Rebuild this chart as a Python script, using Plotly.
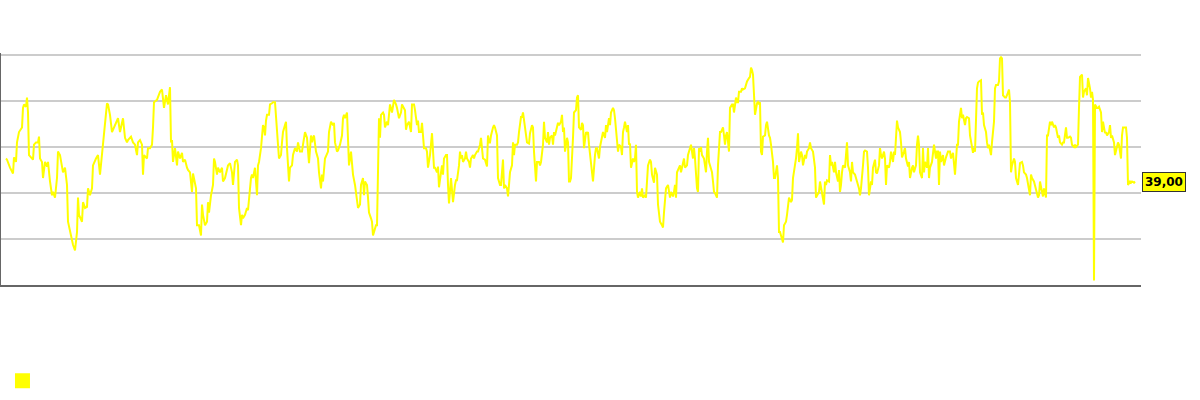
import plotly.graph_objects as go

days = [
    6, 7, 10, 13, 14, 16, 17, 19, 22, 23,
    24, 26, 27, 28, 29, 32, 33, 34, 36, 38,
    39, 40, 42, 43, 45, 47, 48, 50, 52, 53,
    55, 57, 58, 60, 62, 63, 65, 67, 68, 70,
    72, 73, 75, 77, 78, 79, 82, 83, 85, 87,
    88, 90, 92, 93, 96, 98, 100, 102, 103, 105,
    107, 108, 110, 112, 113, 116, 118, 120, 122, 123,
    125, 127, 128, 131, 133, 135, 137, 138, 140, 142,
    143, 144, 147, 148, 150, 152, 153, 154, 157, 158,
    160, 162, 163, 164, 166, 168, 169, 170, 171, 172,
    173, 175, 177, 178, 180, 182, 183, 185, 187, 188,
    190, 192, 193, 195, 196, 197, 199, 201, 202, 203,
    205, 207, 208, 209, 211, 213, 214, 215, 217, 218,
    220, 222, 223, 225, 227, 228, 230, 232, 233, 235,
    237, 238, 239, 241, 242, 243, 245, 247, 248, 249,
    251, 252, 253, 255, 257, 258, 259, 261, 262, 263,
    264, 265, 266, 267, 269, 270, 272, 273, 275, 277,
    278, 279, 281, 282, 283, 285, 286, 287, 289, 290,
    292, 293, 295, 297, 298, 300, 302, 303, 305, 307,
    308, 309, 311, 312, 313, 314, 316, 318, 319, 321,
    322, 323, 325, 327, 328, 329, 331, 333, 334, 335,
    337, 338, 340, 342, 343, 344, 345, 347, 348, 349,
    351, 352, 353, 355, 357, 358, 360, 361, 363, 364,
    365, 367, 368, 369, 371, 372, 373, 375, 376, 377,
    378, 379, 380, 381, 383, 384, 385, 387, 388, 390,
    392, 393, 394, 396, 397, 399, 401, 402, 403, 405,
    406, 407, 409, 410, 411, 412, 414, 415, 417, 418,
    419, 421, 422, 423, 424, 426, 427, 428, 430, 432,
    433, 434, 435, 437, 438, 439, 441, 442, 443, 444,
    446, 447, 448, 449, 451, 452, 453, 455, 456, 457,
    459, 460, 461, 462, 463, 465, 466, 467, 469, 470,
    471, 473, 474, 475, 477, 478, 480, 481, 482, 483,
    485, 487, 488, 489, 490, 491, 493, 494, 495, 497,
    498, 499, 500, 501, 503, 504, 505, 507, 508, 509,
    510, 512, 513, 514, 515, 517, 518, 519, 521, 522,
    523, 525, 526, 527, 529, 530, 532, 533, 534, 535,
    536, 537, 539, 540, 541, 543, 544, 545, 547, 548,
    549, 550, 552, 553, 554, 555, 557, 558, 559, 561,
    562, 563, 564, 565, 567, 568, 569, 570, 571, 572,
    573, 574, 576, 577, 578, 579, 581, 582, 583, 584,
    586, 587, 588, 589, 591, 592, 593, 595, 596, 597,
    599, 600, 602, 603, 605, 606, 607, 609, 610, 611,
    613, 614, 615, 617, 618, 619, 621, 622, 623, 624,
    625, 627, 628, 629, 630, 631, 633, 634, 635, 636,
    637, 638, 640, 641, 642, 643, 645, 646, 647, 648,
    650, 651, 652, 654, 655, 656, 657, 658, 660, 662,
    663, 664, 665, 666, 668, 669, 670, 671, 673, 674,
    675, 676, 677, 679, 680, 681, 682, 684, 685, 687,
    688, 689, 691, 692, 693, 694, 695, 697, 698, 699,
    700, 701, 702, 704, 705, 706, 707, 708, 709, 710,
    712, 713, 714, 715, 717, 718, 719, 720, 721, 723,
    724, 725, 726, 727, 729, 730, 732, 733, 734, 736,
    737, 738, 739, 741, 742, 743, 745, 746, 747, 749,
    750, 751, 752, 753, 754, 755, 757, 758, 759, 760,
    761, 762, 763, 765, 766, 767, 769, 770, 771, 773,
    774, 775, 777, 778, 779, 780, 781, 783, 784, 786,
    787, 788, 789, 791, 792, 793, 794, 796, 797, 798,
    799, 801, 802, 803, 805, 806, 807, 809, 810, 811,
    813, 814, 815, 816, 817, 819, 820, 821, 823, 824,
    825, 826, 827, 829, 830, 831, 832, 834, 835, 836,
    838, 839, 840, 841, 842, 843, 845, 846, 847, 848,
    850, 851, 852, 853, 855, 856, 857, 859, 860, 861,
    863, 864, 865, 867, 868, 869, 871, 872, 873, 875,
    876, 877, 879, 880, 881, 882, 884, 885, 886, 887,
    889, 890, 891, 893, 894, 895, 896, 897, 898, 900,
    901, 902, 904, 905, 906, 908, 909, 910, 912, 913,
    914, 916, 917, 918, 919, 920, 922, 923, 924, 925,
    927, 928, 929, 930, 932, 933, 934, 936, 937, 938,
    939, 940, 941, 943, 944, 946, 947, 948, 950, 951,
    953, 954, 955, 957, 958, 959, 961, 962, 963, 965,
    966, 967, 969, 970, 971, 973, 974, 975, 977, 978,
    979, 981, 982, 983, 984, 986, 987, 988, 989, 991,
    992, 994, 995, 996, 998, 999, 1000, 1001, 1002, 1003,
    1005, 1006, 1007, 1009, 1010, 1011, 1012, 1014, 1015, 1016,
    1018, 1019, 1020, 1022, 1023, 1024, 1026, 1027, 1028, 1030,
    1031, 1032, 1034, 1035, 1036, 1038, 1039, 1040, 1042, 1043,
    1044, 1046, 1047, 1048, 1050, 1051, 1052, 1054, 1055, 1056,
    1058, 1059, 1060, 1062, 1063, 1064, 1066, 1067, 1068, 1070,
    1071, 1072, 1074, 1075, 1076, 1078, 1079, 1080, 1082, 1083,
    1084, 1086, 1087, 1088, 1090, 1091, 1092, 1093, 1094, 1095,
    1097, 1098, 1099, 1101, 1102, 1103, 1105, 1106, 1107, 1109,
    1110, 1111, 1112, 1114, 1115, 1117, 1118, 1119, 1121, 1122,
    1123, 1125, 1126, 1127, 1128, 1130, 1131, 1132, 1134, 1135,
]

values = [
    41.0, 40.9, 40.2, 39.7, 41.1, 40.7, 42.4, 43.3, 43.7, 45.4,
    45.7, 45.5, 46.3, 45.0, 41.3, 41.0, 40.9, 42.2, 42.4, 42.4,
    42.9, 41.0, 40.7, 39.3, 40.7, 40.3, 40.7, 39.0, 37.8, 38.1,
    37.6, 39.3, 41.6, 41.3, 40.4, 39.8, 40.2, 38.7, 35.5, 34.6,
    33.7, 33.5, 33.0, 34.6, 37.6, 36.1, 35.5, 37.2, 36.7, 36.8,
    38.4, 37.8, 38.4, 40.4, 41.0, 41.3, 39.6, 41.3, 41.9, 43.7,
    45.8, 45.7, 44.8, 43.3, 43.5, 44.2, 44.5, 43.3, 44.3, 44.5,
    42.8, 42.4, 42.6, 42.9, 42.4, 42.2, 41.3, 42.4, 42.6, 42.2,
    39.6, 41.3, 41.0, 41.9, 41.9, 42.2, 43.7, 45.9, 46.1, 46.3,
    46.8, 47.0, 46.3, 45.4, 46.5, 45.7, 46.5, 47.2, 42.4, 42.6,
    40.7, 41.9, 40.4, 41.6, 41.0, 41.5, 40.7, 40.9, 40.2, 40.0,
    39.8, 38.1, 39.7, 38.7, 38.4, 35.2, 35.2, 34.3, 37.0, 36.1,
    35.2, 35.5, 37.2, 36.3, 37.8, 38.7, 41.0, 40.7, 39.6, 40.2,
    39.8, 40.2, 39.0, 39.3, 40.2, 40.4, 40.6, 39.8, 38.7, 40.7,
    40.9, 40.4, 36.7, 35.2, 36.1, 35.8, 36.1, 36.7, 36.5, 37.6,
    39.3, 39.6, 39.3, 40.2, 37.8, 40.4, 40.7, 41.9, 42.8, 43.9,
    43.7, 43.0, 44.3, 44.8, 44.8, 45.7, 45.8, 45.9, 45.9, 43.9,
    42.2, 41.0, 41.3, 42.4, 43.3, 43.9, 44.2, 41.9, 39.0, 40.2,
    40.4, 41.3, 41.9, 41.6, 42.4, 41.6, 41.6, 42.2, 43.3, 42.8,
    41.9, 40.6, 43.0, 42.4, 42.8, 43.0, 41.6, 41.0, 39.8, 38.4,
    39.6, 39.0, 41.0, 41.5, 41.6, 43.3, 44.2, 43.9, 44.1, 42.4,
    41.6, 41.7, 42.2, 43.0, 44.5, 44.8, 44.5, 45.0, 41.9, 40.4,
    41.6, 40.7, 39.6, 38.7, 37.2, 36.7, 37.0, 38.7, 39.3, 37.8,
    39.0, 38.7, 37.6, 36.3, 35.8, 35.5, 34.3, 35.0, 35.2, 35.2,
    38.7, 44.5, 42.8, 44.8, 45.0, 44.8, 43.7, 44.2, 43.9, 45.7,
    45.0, 45.7, 46.1, 45.7, 45.4, 44.5, 45.0, 45.7, 45.5, 45.2,
    43.5, 43.9, 44.2, 43.7, 43.3, 45.7, 45.7, 45.2, 43.9, 44.3,
    43.3, 43.3, 44.1, 43.0, 41.9, 41.9, 41.6, 40.2, 41.3, 43.2,
    41.9, 40.2, 40.2, 39.8, 40.3, 38.5, 39.8, 40.4, 39.6, 41.0,
    41.3, 41.3, 38.7, 37.1, 39.3, 38.4, 37.2, 38.7, 39.1, 39.1,
    40.4, 41.6, 41.0, 41.3, 40.7, 41.0, 41.6, 41.0, 40.7, 40.2,
    41.0, 41.3, 41.0, 41.3, 41.6, 41.6, 42.2, 42.8, 41.9, 41.0,
    40.9, 40.3, 43.0, 42.4, 42.4, 43.0, 43.7, 43.9, 43.7, 43.0,
    39.3, 38.9, 38.7, 38.7, 40.9, 38.4, 38.7, 38.4, 37.7, 38.7,
    39.8, 40.4, 42.4, 41.3, 42.2, 42.2, 42.4, 43.3, 44.6, 44.6,
    45.0, 43.7, 42.8, 42.4, 42.3, 43.2, 43.9, 43.7, 41.6, 39.6,
    39.0, 40.7, 40.7, 40.4, 40.7, 42.2, 44.2, 42.8, 42.4, 43.3,
    42.2, 42.8, 43.0, 42.2, 43.3, 43.0, 43.7, 44.1, 43.9, 44.2,
    44.8, 43.3, 43.7, 41.6, 42.8, 42.4, 39.0, 39.0, 39.3, 40.7,
    42.8, 45.0, 45.2, 46.3, 46.5, 43.7, 43.5, 44.1, 43.9, 41.9,
    43.3, 43.2, 43.3, 42.2, 40.7, 40.2, 39.0, 41.3, 41.9, 41.9,
    41.0, 42.0, 42.8, 43.3, 42.8, 43.9, 43.3, 44.5, 43.9, 45.0,
    45.4, 45.2, 44.5, 42.2, 41.6, 42.2, 42.0, 41.3, 43.3, 43.7,
    44.2, 43.3, 43.9, 42.2, 42.3, 40.2, 41.0, 40.7, 41.0, 42.2,
    38.1, 37.6, 38.1, 37.7, 38.4, 37.6, 37.8, 37.6, 39.0, 40.4,
    40.9, 40.7, 39.6, 38.9, 40.2, 39.8, 39.6, 37.0, 35.5, 35.2,
    35.0, 36.3, 37.6, 38.4, 38.7, 38.1, 37.6, 38.1, 37.7, 38.1,
    38.7, 37.6, 39.8, 40.2, 40.4, 39.8, 40.3, 41.0, 40.2, 40.4,
    41.3, 41.6, 42.2, 41.6, 41.0, 41.9, 41.0, 38.4, 38.1, 41.9,
    41.6, 42.0, 41.3, 41.0, 40.4, 39.8, 41.6, 42.8, 40.7, 40.4,
    39.8, 39.0, 38.1, 38.0, 37.6, 40.4, 42.4, 43.3, 43.3, 43.7,
    43.0, 42.2, 43.0, 43.3, 41.6, 45.4, 45.7, 45.7, 45.0, 46.3,
    45.9, 45.9, 46.8, 46.8, 47.1, 47.0, 47.1, 47.4, 47.7, 48.0,
    48.1, 48.9, 48.7, 48.3, 45.7, 44.8, 45.8, 45.9, 45.7, 45.9,
    41.6, 41.3, 42.9, 43.0, 43.9, 44.2, 43.0, 42.8, 42.2, 40.7,
    39.3, 39.3, 40.4, 39.3, 34.6, 34.6, 34.3, 33.7, 35.2, 35.5,
    36.1, 37.2, 37.6, 37.2, 37.4, 39.3, 39.8, 41.0, 41.9, 43.2,
    40.7, 41.6, 41.3, 40.4, 41.3, 41.0, 41.6, 41.9, 42.4, 41.9,
    41.6, 41.0, 40.2, 37.6, 37.8, 38.1, 39.0, 38.4, 37.6, 37.0,
    39.0, 38.7, 39.1, 39.0, 41.3, 40.4, 40.7, 39.8, 40.7, 39.8,
    39.0, 40.0, 38.1, 38.7, 39.8, 40.4, 40.2, 41.3, 42.4, 40.4,
    39.8, 39.0, 40.7, 39.8, 39.6, 39.3, 39.0, 38.4, 37.8, 38.4,
    40.4, 41.6, 41.7, 41.6, 40.2, 37.8, 39.0, 38.7, 40.2, 40.9,
    39.8, 39.7, 40.4, 41.9, 41.3, 41.0, 41.6, 41.0, 38.7, 40.4,
    40.2, 40.7, 41.6, 40.7, 41.6, 41.3, 42.8, 44.3, 43.7, 43.3,
    42.4, 41.1, 41.6, 41.9, 41.0, 40.3, 40.7, 39.3, 40.2, 40.4,
    39.8, 40.4, 42.2, 43.0, 42.2, 39.8, 39.3, 41.9, 39.8, 40.7,
    40.2, 41.9, 39.3, 40.2, 40.7, 41.3, 42.2, 41.0, 41.6, 41.6,
    38.7, 41.6, 40.7, 41.3, 40.4, 41.1, 41.3, 41.6, 41.6, 41.0,
    41.5, 40.2, 39.6, 42.2, 42.2, 44.2, 45.4, 44.5, 44.8, 43.9,
    44.5, 44.6, 44.5, 43.0, 42.4, 41.5, 41.9, 41.6, 47.1, 47.6,
    47.7, 47.8, 44.8, 45.0, 43.9, 43.3, 42.4, 41.9, 42.2, 41.3,
    42.4, 44.2, 47.1, 47.4, 47.4, 47.7, 49.7, 49.8, 49.7, 46.5,
    46.3, 46.3, 46.5, 47.0, 45.9, 39.8, 40.4, 41.0, 40.7, 39.3,
    38.7, 39.8, 40.6, 40.7, 40.4, 39.8, 39.6, 39.3, 38.7, 37.8,
    39.6, 39.3, 39.0, 38.7, 38.4, 37.6, 37.8, 39.0, 38.1, 37.7,
    38.4, 37.6, 43.0, 43.0, 44.2, 43.9, 44.2, 43.7, 43.9, 43.7,
    42.8, 43.0, 42.4, 42.2, 42.4, 42.4, 43.7, 42.8, 42.8, 42.9,
    42.8, 42.2, 42.0, 42.2, 42.0, 42.2, 45.4, 48.1, 48.3, 46.3,
    46.8, 47.1, 46.5, 48.0, 47.1, 46.3, 46.8, 46.1, 30.4, 45.7,
    45.4, 45.4, 45.5, 45.0, 43.3, 44.2, 43.2, 43.3, 43.0, 43.3,
    43.9, 42.8, 43.0, 42.4, 41.3, 42.2, 42.4, 42.2, 41.0, 43.0,
    43.7, 43.7, 43.7, 42.8, 38.7, 39.0, 38.9, 39.0, 38.9, 39.0,
]

series_name = ""
y_min, y_max, y_step = 30, 50, 4
day_min, day_max = 1, 1141

assert len(days) == len(values)

last_label = f"{values[-1]:.2f}".replace(".", ",")
line_color = "#ffff00"

fig = go.Figure()
fig.add_trace(go.Scatter(
    x=days, y=values, mode="lines",
    line=dict(color=line_color, width=2),
    showlegend=False, hoverinfo="skip",
))
# legend swatch (square marker)
fig.add_trace(go.Scatter(
    x=[None], y=[None], mode="markers", name=series_name,
    marker=dict(symbol="square", size=15, color=line_color),
    showlegend=True,
))

fig.update_layout(
    width=1200, height=400,
    margin=dict(l=1, r=59, t=53, b=115, pad=0),
    plot_bgcolor="white", paper_bgcolor="white",
    showlegend=True,
    legend=dict(x=0.0013, y=-0.35, xanchor="left", yanchor="top",
                bgcolor="rgba(0,0,0,0)", borderwidth=0,
                font=dict(family="DejaVu Sans", size=12)),
    xaxis=dict(range=[day_min, day_max], showgrid=False, zeroline=False,
               showticklabels=False, ticks="", showline=True,
               linecolor="#666666", linewidth=2, fixedrange=True),
    yaxis=dict(range=[y_min, y_max + 2 / 11.5], tick0=y_min, dtick=y_step,
               showgrid=True, gridcolor="#cccccc", gridwidth=2,
               zeroline=False, showticklabels=False, ticks="",
               showline=True, linecolor="#666666", linewidth=1,
               fixedrange=True),
    annotations=[dict(
        x=1, xref="paper", xanchor="left", xshift=1,
        y=values[-1], yref="y", yanchor="middle",
        text=f"<b>{last_label}</b>", showarrow=False,
        bgcolor=line_color, bordercolor="#333333", borderwidth=1, borderpad=2,
        font=dict(family="DejaVu Sans", size=12, color="black"),
    )],
)

fig.write_html("out.html", config={"displayModeBar": False})
